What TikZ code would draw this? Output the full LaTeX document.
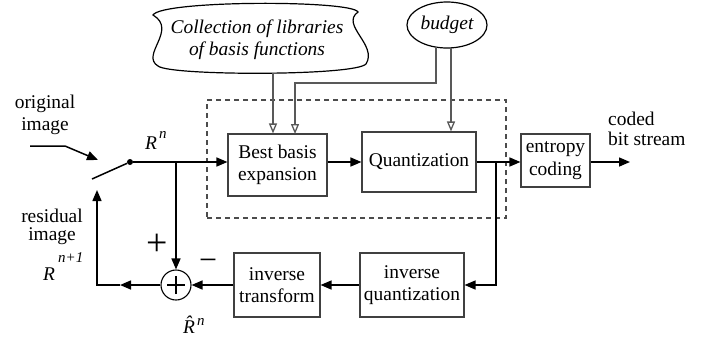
\documentclass[tikz,border=0pt]{standalone}
\usepackage{fontspec}
\setmainfont{LiberationSerif}[Extension=.ttf, UprightFont=*-Regular, ItalicFont=*-Italic,
  BoldFont=*-Bold, BoldItalicFont=*-BoldItalic]
\usetikzlibrary{arrows.meta,shapes.geometric}

\tikzset{
  fnt/.style={font=\rmfamily\fontsize{19.5}{22.5}\selectfont},
  box/.style={draw=black!75, line width=1.1bp, fnt, align=center, inner sep=0pt},
  flow/.style={line width=1.5bp, -{Triangle[length=11bp,width=9bp]}},
  ctrl/.style={draw=black!65, line width=1.3bp, -{Triangle[open,length=10bp,width=8bp,fill=white]}},
  lbl/.style={fnt, align=center, inner sep=0pt},
  sym/.style={font=\rmfamily\fontsize{19.5}{22.5}\selectfont\itshape, inner sep=0pt, anchor=base west},
  supsc/.style={font=\rmfamily\fontsize{15}{15}\selectfont\itshape, inner sep=0pt, anchor=base west},
  sign/.style={inner sep=0pt},
}

\begin{document}
\begin{tikzpicture}[x=1bp, y=-1bp]
\useasboundingbox (0,0) rectangle (712,339);

% processing blocks
\node[box, minimum width=99bp,  minimum height=62bp] (bbe) at (277.5,165) {Best basis\\expansion};
\node[box, minimum width=114bp, minimum height=60bp] (qnt) at (419,162)   {Quantization};
\node[box, minimum width=69bp,  minimum height=53bp] (ent) at (555.5,160.5) {entropy\\coding};
\node[box, minimum width=104bp, minimum height=64bp] (iq)  at (412,285)   {inverse\\quantization};
\node[box, minimum width=86bp,  minimum height=64bp] (it)  at (277,285)   {inverse\\transform};

% dashed group around expansion and quantization
\node[draw=black!70, line width=1.1bp, dash pattern=on 5bp off 4bp,
      minimum width=299bp, minimum height=118bp, inner sep=0pt] (grp) at (356.5,159) {};

% library cloud
\draw[line width=1.2bp]
  (153,15) .. controls (162,0) and (352,0) .. (358,12)
           .. controls (340,25) and (378,45) .. (366,64)
           .. controls (355,76) and (170,76) .. (158,66)
           .. controls (140,55) and (178,30) .. (153,15) -- cycle;
\node[lbl, font=\rmfamily\fontsize{19.5}{22}\selectfont\itshape] (lib) at (257,39.5)
  {Collection of libraries\\of basis functions};
\coordinate (libout) at (273,73);

% budget
\node[draw, ellipse, line width=1.2bp, minimum width=80bp, minimum height=46bp,
      inner sep=0pt, font=\rmfamily\fontsize{19.5}{22.5}\selectfont\itshape] (bud) at (447,25) {budget};
\coordinate (b1) at (436,47);
\coordinate (b2) at (451,48);
\coordinate (bk) at (436,83);
\coordinate (bx) at (295,134);

% control inputs
\draw[ctrl] (libout) -- (libout |- bbe.north);
\draw[ctrl] (b1) -- (bk) -| (bx);
\draw[ctrl] (b2) -- (b2 |- qnt.north);

% switch and input
\node[circle, fill, inner sep=0pt, minimum size=6bp] (dot) at (130,162) {};
\coordinate (arm) at (92,179);
\draw[line width=1.5bp] (arm) -- (dot);
\coordinate (in0) at (30,146);
\coordinate (in1) at (65,146);
\coordinate (in2) at (98,160);
\draw[flow] (in0) -- (in1) -- (in2);

% forward path
\draw[flow] (dot) -- (dot -| bbe.west);
\draw[flow] (bbe.east |- qnt.west) -- (qnt.west);
\draw[flow] (qnt.east) -- (qnt.east -| ent.west);
\coordinate (out) at (630,162);
\draw[flow] (ent.east |- out) -- (out);

% summing junction
\node[circle, draw, line width=1.1bp, minimum size=30bp, inner sep=0pt] (sum) at (176,285) {};
\draw[line width=1.1bp] ([xshift=-9bp]sum.center) -- ([xshift=9bp]sum.center);
\draw[line width=1.1bp] ([yshift=-9bp]sum.center) -- ([yshift=9bp]sum.center);

% reconstruction loop
\coordinate (qbr) at (496,162);
\draw[flow] (qbr) |- (iq.east);
\draw[flow] (iq.west) -- (it.east);
\draw[flow] (it.west) -- (sum.east);
\coordinate (br) at (176,162);
\draw[flow] (br) -- (sum.north);
\coordinate (fbm) at (120,285);
\coordinate (fbc) at (97,285);
\coordinate (swin) at (97,190);
\draw[flow] (sum.west) -- (fbm);
\draw[flow] (fbm) -- (fbc) -- (swin);

% signs
\node[sign, font=\rmfamily\fontsize{38}{38}\selectfont] (plus) at (157,245) {+};
\node[sign, font=\rmfamily\fontsize{32}{32}\selectfont] (minus) at (208,265) {\char"2212};

% text labels
\node[lbl] (orig) at (45,114.75) {original\\image};
\node[lbl, font=\rmfamily\fontsize{19.5}{18}\selectfont] (resid) at (52,227) {residual\\image};
\node[lbl, align=left, anchor=west, font=\rmfamily\fontsize{19.5}{20}\selectfont] (coded) at (608,128.4) {coded\\bit stream};

% signal symbols
\node[sym] (rn) at (145,149) {R};
\node[supsc] (rnsup) at (159,138) {n};
\node[sym] (rn1) at (43,280) {R};
\node[supsc] (rn1sup) at (58,262) {n+1};
\node[sym] (rhat) at (183,333) {\^{R}};
\node[supsc] (rhatsup) at (197,325) {n};
\end{tikzpicture}
\end{document}
